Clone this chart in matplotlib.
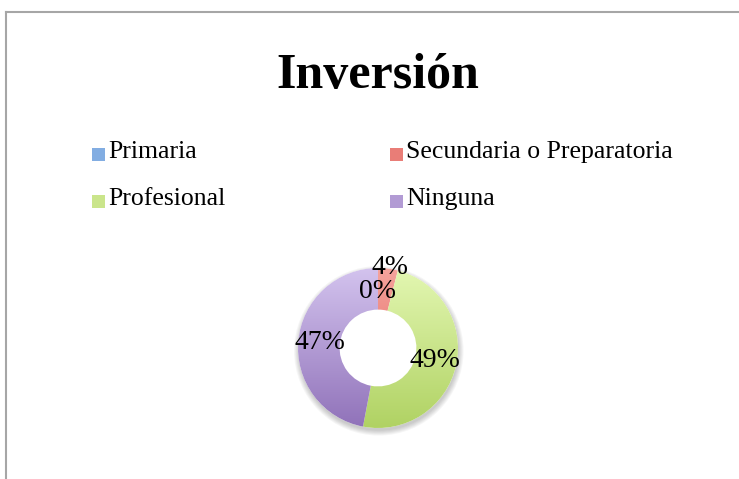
import numpy as np
import matplotlib.pyplot as plt
from matplotlib.colors import LinearSegmentedColormap
from matplotlib.patches import Rectangle, Circle
from matplotlib.lines import Line2D

# data
categories = ['Primaria', 'Secundaria o Preparatoria', 'Profesional', 'Ninguna']
percentages = [0, 4, 49, 47]

# colour gradients (top, bottom) for each slice
tops = ['#a9cbf2', '#f5a49d', '#e3f7b2', '#d3c3ee']
bottoms = ['#5b8fd1', '#dc5650', '#b0d263', '#9072b9']

plt.rcParams['font.family'] = ['Liberation Serif', 'DejaVu Serif']

W, H = 739, 479
fig = plt.figure(figsize=(W / 100, H / 100), dpi=100)

# chart frame (extends past right / bottom edges)
fig.add_artist(Line2D([6 / W, 6 / W], [0, 1 - 12 / H], color='#a6a6a6', lw=1.5))
fig.add_artist(Line2D([6 / W, 1], [1 - 12 / H, 1 - 12 / H], color='#a6a6a6', lw=1.5))

fig.text(378 / W, 1 - 88 / H, 'Inversión', ha='center', va='baseline',
         fontsize=36, fontweight='bold')

# legend, two columns
col_x = [92, 390]
row_y = [158, 205]
for i, cat in enumerate(categories):
    x = col_x[i % 2]
    y = row_y[i // 2]
    grad = LinearSegmentedColormap.from_list('g', [bottoms[i], tops[i]])
    fig.add_artist(Rectangle((x / W, 1 - (y + 3) / H), 13 / W, 13 / H,
                             facecolor=grad(0.5), edgecolor='none'))
    fig.text((x + 16) / W, 1 - y / H, cat, ha='left', va='baseline', fontsize=18.5)

# donut
cx, cy, r = 378, 348, 84
half = 100
ax = fig.add_axes([(cx - half) / W, 1 - (cy + half) / H, 2 * half / W, 2 * half / H])
lim = half / r
ax.set_xlim(-lim, lim)
ax.set_ylim(-lim, lim)
ax.set_aspect('equal')
ax.axis('off')

# soft shadow
for k in range(6):
    ax.add_patch(Circle((0.01, -0.035), 1.0 + 0.012 * k, facecolor='#000000',
                        alpha=0.035, edgecolor='none', zorder=0))
ax.add_patch(Circle((0, 0), 1.0, facecolor='white', edgecolor='none', zorder=0.5))

wedges, texts, autotexts = ax.pie(percentages, startangle=90, counterclock=False,
                                  radius=1.0, pctdistance=0.73,
                                  autopct=lambda p: '%d%%' % round(p),
                                  wedgeprops=dict(width=0.52, edgecolor='none'),
                                  textprops=dict(fontsize=20))

ramp = np.linspace(0, 1, 256).reshape(-1, 1)
for i, w in enumerate(wedges):
    w.set_facecolor('none')
    grad = LinearSegmentedColormap.from_list('g', [tops[i], bottoms[i]])
    im = ax.imshow(ramp, cmap=grad, extent=[-1, 1, -1, 1], aspect='auto',
                   origin='upper', zorder=1)
    im.set_clip_path(w)

# small slice label pushed outward like the original
for i, t in enumerate(autotexts):
    t.set_zorder(3)
    if percentages[i] == 0:
        x0, y0 = t.get_position()
        t.set_position((x0, y0 - 0.03))
    elif percentages[i] < 10:
        ang = np.deg2rad((wedges[i].theta1 + wedges[i].theta2) / 2)
        t.set_position((1.02 * np.cos(ang) + 0.02, 1.02 * np.sin(ang)))

fig.savefig('out.png', dpi=100)
